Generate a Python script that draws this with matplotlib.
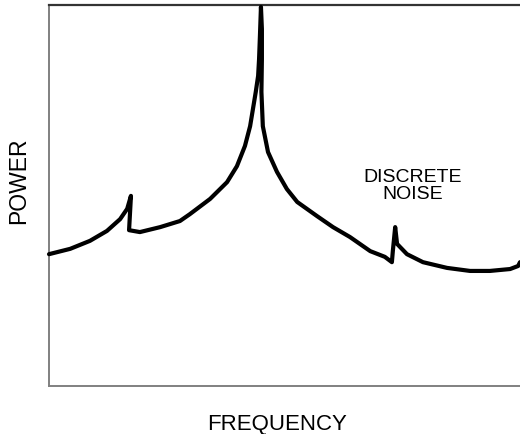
"""Sketch-style power spectrum: a broad resonance peak plus two discrete noise spikes."""

import matplotlib

matplotlib.use("Agg")
import matplotlib.pyplot as plt

# frequency / power values (arbitrary units, 0-100)
freq = [0.0, 4.5, 8.7, 12.3, 15.1, 16.6, 17.4, 17.0, 19.3, 23.6, 27.8, 29.9,
        34.2, 37.8, 39.9, 41.6, 42.7, 43.3, 43.9, 44.4, 44.6, 44.8, 45.0,
        45.2, 45.2, 45.1, 45.4, 46.5, 48.4, 50.5, 52.7, 56.9, 60.3, 63.9,
        68.2, 71.3, 72.8, 73.0, 73.5, 73.9, 76.0, 79.4, 84.5, 89.4, 93.6,
        97.9, 99.6, 100.0]
power = [34.6, 36.0, 38.1, 40.7, 43.8, 46.5, 49.9, 40.9, 40.4, 41.7, 43.3, 45.1,
         49.1, 53.5, 57.7, 63.0, 68.2, 72.7, 77.2, 81.4, 85.8, 92.4, 99.5,
         93.7, 85.8, 77.2, 68.2, 61.4, 56.2, 51.7, 48.3, 44.6, 41.7, 39.1,
         35.4, 33.9, 32.5, 35.4, 41.7, 37.3, 34.6, 32.5, 31.0, 30.2, 30.2,
         30.7, 31.5, 32.5]

x_label = "FREQUENCY"
y_label = "POWER"
note = "DISCRETE\nNOISE"

plt.rcParams["font.family"] = ["Liberation Sans", "DejaVu Sans"]

fig = plt.figure(figsize=(5.2, 4.35), dpi=100)
ax = fig.add_axes([49 / 520, 1 - 387 / 435, 471 / 520, 381 / 435])

ax.plot(freq, power, color="black", linewidth=3.0, solid_joinstyle="round",
        solid_capstyle="round", clip_on=False, zorder=3)

ax.set_xlim(0, 100)
ax.set_ylim(0, 100)
ax.set_xticks([])
ax.set_yticks([])

ax.spines["right"].set_visible(False)
ax.spines["top"].set_color("#333333")
ax.spines["top"].set_linewidth(1.6)
for side in ("left", "bottom"):
    ax.spines[side].set_color("#808080")
    ax.spines[side].set_linewidth(1.4)

ax.text(77.3, 52.8, note, ha="center", va="center", fontsize=14,
        linespacing=1.0)

fig.text(277 / 520, 1 - 425 / 435, x_label, ha="center", va="center",
         fontsize=16)
fig.text(19 / 520, 1 - 181 / 435, y_label, ha="center", va="center",
         fontsize=16.5, rotation=90)

fig.savefig("out.png", dpi=100)
